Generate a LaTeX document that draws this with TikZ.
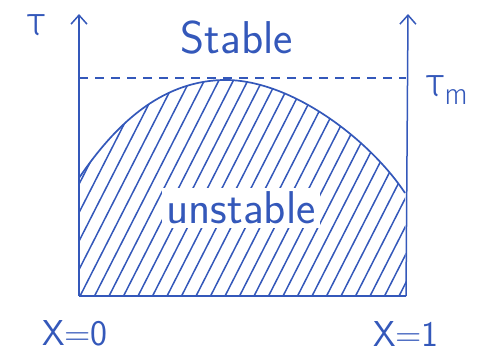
\documentclass[tikz,border=0pt]{standalone}
\usepackage{fontspec}
\newfontfamily\greekfont{Fira Sans Light}
\usetikzlibrary{arrows.meta}
\definecolor{pen}{RGB}{52,88,186}
\tikzset{
  axis/.style={pen, line width=1.5pt, -{Straight Barb[length=9pt, width=16pt, line width=1.5pt]}},
  edge/.style={pen, line width=1.7pt},
  hatch/.style={pen, line width=1.5pt},
  lbl/.style={pen, font=\sffamily\fontsize{46}{48}\selectfont, inner sep=1pt},
  sym/.style={pen, font=\greekfont\fontsize{40}{42}\selectfont, inner sep=1pt}
}
\begin{document}
\begin{tikzpicture}[x=1pt, y=-1pt]
	\useasboundingbox (0,0) rectangle (481,360);
	% corners and axis tips
	\coordinate (o0) at (79,296);
	\coordinate (o1) at (406,296);
	\coordinate (t0) at (79,14);
	\coordinate (t1) at (408,14);
	\coordinate (m0) at (79,78);
	\coordinate (m1) at (406,78);
	\coordinate (c0) at (79,178);
	\coordinate (top) at (222,80);
	\coordinate (c1) at (405,193);
	
	% hatched region under the curve
	\begin{scope}
		\clip (o0) -- (c0) .. controls (115,125) and (160,82) .. (top) .. controls (290,78) and (370,140) .. (c1) -- (o1) -- cycle;
		\foreach \i in {0,...,34}
			\draw[hatch] (20+14.5*\i,300) -- ++(-63:250);
	\end{scope}
	\draw[edge] (c0) .. controls (115,125) and (160,82) .. (top) .. controls (290,78) and (370,140) .. (c1);
	
	\draw[edge] (o0) -- (o1);
	\draw[axis] (o0) -- (t0);
	\draw[axis] (o1) -- (t1);
	\draw[pen, line width=1.4pt, dashed, dash pattern=on 9pt off 7pt] (m0) -- (m1);
	
	\node[sym] (tau) at (36,25) {τ};
	\node[sym] (taum) at (447,90) {τ\raisebox{-8pt}{\fontsize{28}{30}\selectfont m}};
	\node[lbl] (stab) at (237,38) {Stable};
	\node[lbl, fill=white, inner sep=4pt] (unst) at (241,208) {unstable};
	\node[lbl, font=\sffamily\fontsize{36}{38}\selectfont] (x0) at (75,333) {X=0};
	\node[lbl, font=\sffamily\fontsize{36}{38}\selectfont] (x1) at (406,334) {X=1};
\end{tikzpicture}
\end{document}
